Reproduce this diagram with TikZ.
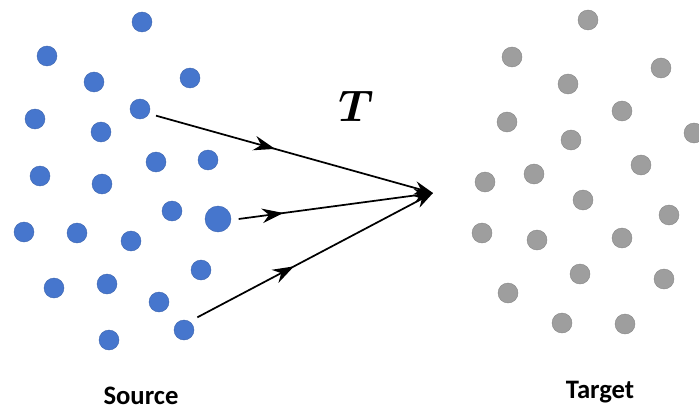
\documentclass[tikz,border=0pt]{standalone}
\usepackage{fontspec}
\usepackage{bm}
\setmainfont{Carlito}
\usetikzlibrary{arrows.meta,decorations.markings}
\definecolor{srcblue}{RGB}{70,118,205}
\definecolor{tgtgray}{RGB}{158,158,158}
\tikzset{
  srcdot/.style={circle, fill=srcblue, draw=srcblue!85!black, line width=0.3pt, inner sep=0pt, minimum size=15pt},
  tgtdot/.style={circle, fill=tgtgray, draw=tgtgray!85!black, line width=0.3pt, inner sep=0pt, minimum size=15pt},
  maparrow/.style={line width=1.3pt, -{Stealth[length=14pt,width=10pt]}, postaction={decorate},
    decoration={markings, mark=at position #1 with {\arrow{Stealth[length=16pt,width=11pt]}}}},
  setlabel/.style={font=\bfseries\fontsize{20}{24}\selectfont, inner sep=0pt, anchor=base}
}
\begin{document}
\begin{tikzpicture}[x=0.75pt, y=-0.75pt]
      \useasboundingbox (0,0) rectangle (699,410);

      \foreach [count=\i] \x/\y in {142/22, 47/56, 94/82, 190/78, 35/119, 140/109, 101/132, 40/176,
          102/184, 156/162, 208/160, 172/211, 24/232, 77/233, 131/241, 201/270, 54/288,
          107/284, 159/302, 184/330, 109/340} {
          \node[srcdot] (src\i) at (\x,\y) {};
        }
      \node[srcdot, minimum size=19.5pt] (srcbig) at (218,219) {};

      \foreach [count=\i] \x/\y in {588/20, 512/57, 568/84, 661/68, 507/122, 622/111, 694/133, 571/140,
          641/165, 534/174, 485/182, 583/200, 669/215, 482/233, 537/240, 622/238, 580/274,
          664/279, 508/293, 562/323, 625/324} {
          \node[tgtdot] (tgt\i) at (\x,\y) {};
        }

      \coordinate (focus) at (433,193);
      \draw[maparrow=0.43] ([xshift=12pt,yshift=-5pt]src6.center) -- (focus);
      \draw[maparrow=0.23] ([xshift=15.5pt]srcbig.center) -- (focus);
      \draw[maparrow=0.41] ([xshift=10pt,yshift=9.5pt]src20.center) -- (focus);

      \node[scale=1.6] (map) at (356,106) {\huge$\bm{T}$};
      \node[setlabel] (source) at (141,404) {Source};
      \node[setlabel] (target) at (600,398) {Target};
    \end{tikzpicture}
\end{document}
